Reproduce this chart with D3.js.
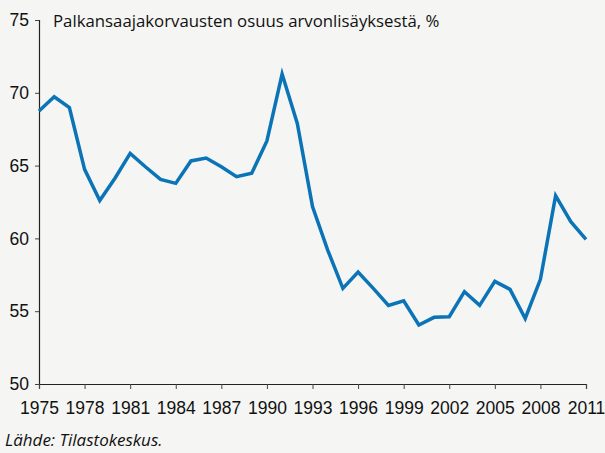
<!DOCTYPE html>
<html>
<head>
<meta charset="utf-8">
<script src="https://cdn.jsdelivr.net/npm/d3@7"></script>
<style>
  html, body { margin: 0; padding: 0; background: #f5f5f3; }
  svg { display: block; font-family: "Open Sans", "Noto Sans", sans-serif; }
</style>
</head>
<body>
<svg id="chart"></svg>
<script>
const width = 605;
const height = 453;
const marginTop = 20;
const marginRight = 19;
const marginBottom = 69;
const marginLeft = 39;

// Data
const years = d3.range(1975, 2012);
const share = [
  68.75, 69.73, 68.98, 64.74, 62.6, 64.13, 65.84, 64.92, 64.05, 63.78,
  65.32, 65.52, 64.92, 64.24, 64.47, 66.69, 71.29, 67.9, 62.18, 59.2,
  56.57, 57.69, 56.57, 55.4, 55.72, 54.05, 54.58, 54.62, 56.34, 55.4,
  57.05, 56.5, 54.5, 57.19, 62.93, 61.15, 59.94
];
const xTicks = [1975, 1978, 1981, 1984, 1987, 1990, 1993, 1996, 1999, 2002, 2005, 2008, 2011];
const yTicks = [50, 55, 60, 65, 70, 75];
const title = "Palkansaajakorvausten osuus arvonlisäyksestä, %";
const source = "Lähde: Tilastokeskus.";

const data = years.map((y, i) => ({ year: y, value: share[i] }));

const svg = d3.select("#chart")
  .attr("width", width)
  .attr("height", height);

const x = d3.scaleLinear()
  .domain([1975, 2011])
  .range([marginLeft, width - marginRight]);

const y = d3.scaleLinear()
  .domain([50, 75])
  .range([height - marginBottom, marginTop]);

// y axis
const yAxis = svg.append("g")
  .attr("transform", "translate(" + marginLeft + ",0)")
  .call(d3.axisLeft(y).tickValues(yTicks).tickSize(4).tickPadding(6));
yAxis.select(".domain").attr("stroke", "#222").attr("stroke-width", 1.2);
yAxis.selectAll(".tick line").attr("stroke", "#444");
yAxis.selectAll("text").attr("font-size", 17.5).attr("fill", "#111");

// x axis
const xAxis = svg.append("g")
  .attr("transform", "translate(0," + (height - marginBottom) + ")")
  .call(d3.axisBottom(x).tickValues(xTicks).tickFormat(d3.format("d")).tickSize(5).tickPadding(13));
xAxis.select(".domain").attr("stroke", "#222").attr("stroke-width", 1.2);
xAxis.selectAll(".tick line").attr("stroke", "#444");
xAxis.selectAll("text").attr("font-size", 17.5).attr("fill", "#111");

// line
const line = d3.line()
  .x(d => x(d.year))
  .y(d => y(d.value));

svg.append("path")
  .datum(data)
  .attr("fill", "none")
  .attr("stroke", "#0b74b7")
  .attr("stroke-width", 3.5)
  .attr("stroke-linejoin", "miter")
  .attr("d", line);

// title
svg.append("text")
  .attr("x", 53)
  .attr("y", 27)
  .attr("font-size", 16.8)
  .attr("fill", "#111")
  .text(title);

// source
svg.append("text")
  .attr("x", 5)
  .attr("y", 446)
  .attr("font-size", 17)
  .attr("font-style", "italic")
  .attr("fill", "#111")
  .text(source);
</script>
</body>
</html>
